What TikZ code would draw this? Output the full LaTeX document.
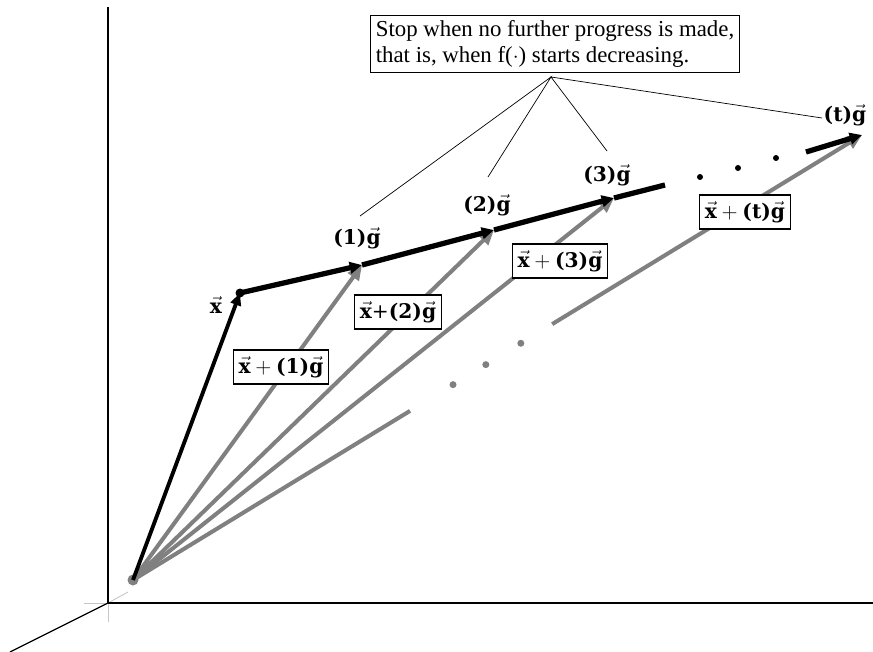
\documentclass[tikz,border=0pt]{standalone}
\usepackage{amsmath}
\usepackage{fontspec}
\setmainfont{Liberation Serif}
\newfontfamily\lblfont{DejaVu Serif}
\usetikzlibrary{arrows.meta, calc}

\newcommand{\vx}{\vec{\textbf{x}}}
\newcommand{\vg}{\vec{\textbf{g}}}

\begin{document}
\begin{tikzpicture}[
  x=0.02cm, y=-0.02cm,
  font=\fontsize{13}{15}\selectfont,
  axis/.style={line width=.7pt},
  faint/.style={draw=gray!45, line width=.5pt},
  bvec/.style={draw=black, line width=3pt,
               -{Triangle[length=7pt, width=6.5pt]}},
  gvec/.style={draw=gray, line width=2.3pt,
               -{Triangle[length=8.5pt, width=7.5pt]}},
  lbl/.style={font=\lblfont\fontsize{11.5}{14}\selectfont, inner sep=1pt},
  sumbox/.style={draw, fill=white, line width=.6pt, inner sep=3pt,
                 minimum height=0.68cm, font=\lblfont\fontsize{11.5}{14}\selectfont},
  callout/.style={draw=black, line width=.4pt},
]
\useasboundingbox (0,0) rectangle (873,652);

% axes
\coordinate (orig) at (108,603);
\draw[faint] (84,603) -- (orig) -- (108,622);
\draw[faint] (orig) -- (128,592);
\draw[axis] (108,7) -- (orig) -- (873,603);
\draw[axis] (orig) -- (10,652);

% points
\coordinate (o)  at (133,580);
\coordinate (x)  at (240,293);
\coordinate (p1) at (362,265);
\coordinate (p2) at (494,230);
\coordinate (p3) at (614,198);
\coordinate (pt) at (862,135);

% gray sums
\draw[gvec] (o) -- (p1);
\draw[gvec] (o) -- (p2);
\draw[gvec] (o) -- (p3);
\draw[gray, line width=2.3pt] (o) -- ($(o)!0.38!(pt)$);
\foreach \f in {0.439,0.484,0.532}
  \fill[gray] ($(o)!\f!(pt)$) circle (3.5);
\draw[gvec] ($(o)!0.575!(pt)$) -- (pt);
\fill[gray] (o) circle (5.5);

% black steps
\draw[black, line width=2.2pt, -{Triangle[length=7pt, width=6pt]}] (o) -- (x);
\draw[bvec] (x) -- (p1);
\draw[bvec] (p1) -- (p2);
\draw[bvec] (p2) -- (p3);
\draw[black, line width=3pt] (p3) -- (665,185);
\foreach \px/\py in {700/177, 738/168, 776/158}
  \fill (\px,\py) circle (3);
\draw[bvec] (806,152) -- (pt);
\fill (x) circle (4.5);

% labels
\node[lbl] (lx) at (216,305) {$\vx$};
\node[lbl] (g1) at (357,238) {\textbf{(1)}$\vg$};
\node[lbl] (g2) at (487,205) {\textbf{(2)}$\vg$};
\node[lbl] (g3) at (607,175) {\textbf{(3)}$\vg$};
\node[lbl] (gt) at (845,115) {\textbf{(t)}$\vg$};

\node[sumbox] (s1) at (281,367) {$\vx+{}$\textbf{(1)}$\vg$};
\node[sumbox] (s2) at (398,312) {$\vx$+\textbf{(2)}$\vg$};
\node[sumbox] (s3) at (560,261) {$\vx+{}$\textbf{(3)}$\vg$};
\node[sumbox] (st) at (745,212) {$\vx+{}$\textbf{(t)}$\vg$};

% callout
\node[draw, line width=.6pt, align=left, inner sep=3pt] (note) at (555,44)
  {Stop when no further progress is made,\\
   that is, when f($\cdot$) starts decreasing.};
\coordinate (hub) at (551,77);
\coordinate (e1) at (360,216);
\coordinate (e2) at (488,177);
\coordinate (e3) at (607,151);
\coordinate (et) at (822,118);
\draw[callout] (e1) -- (hub) -- (e2);
\draw[callout] (e3) -- (hub) -- (et);
\end{tikzpicture}
\end{document}
